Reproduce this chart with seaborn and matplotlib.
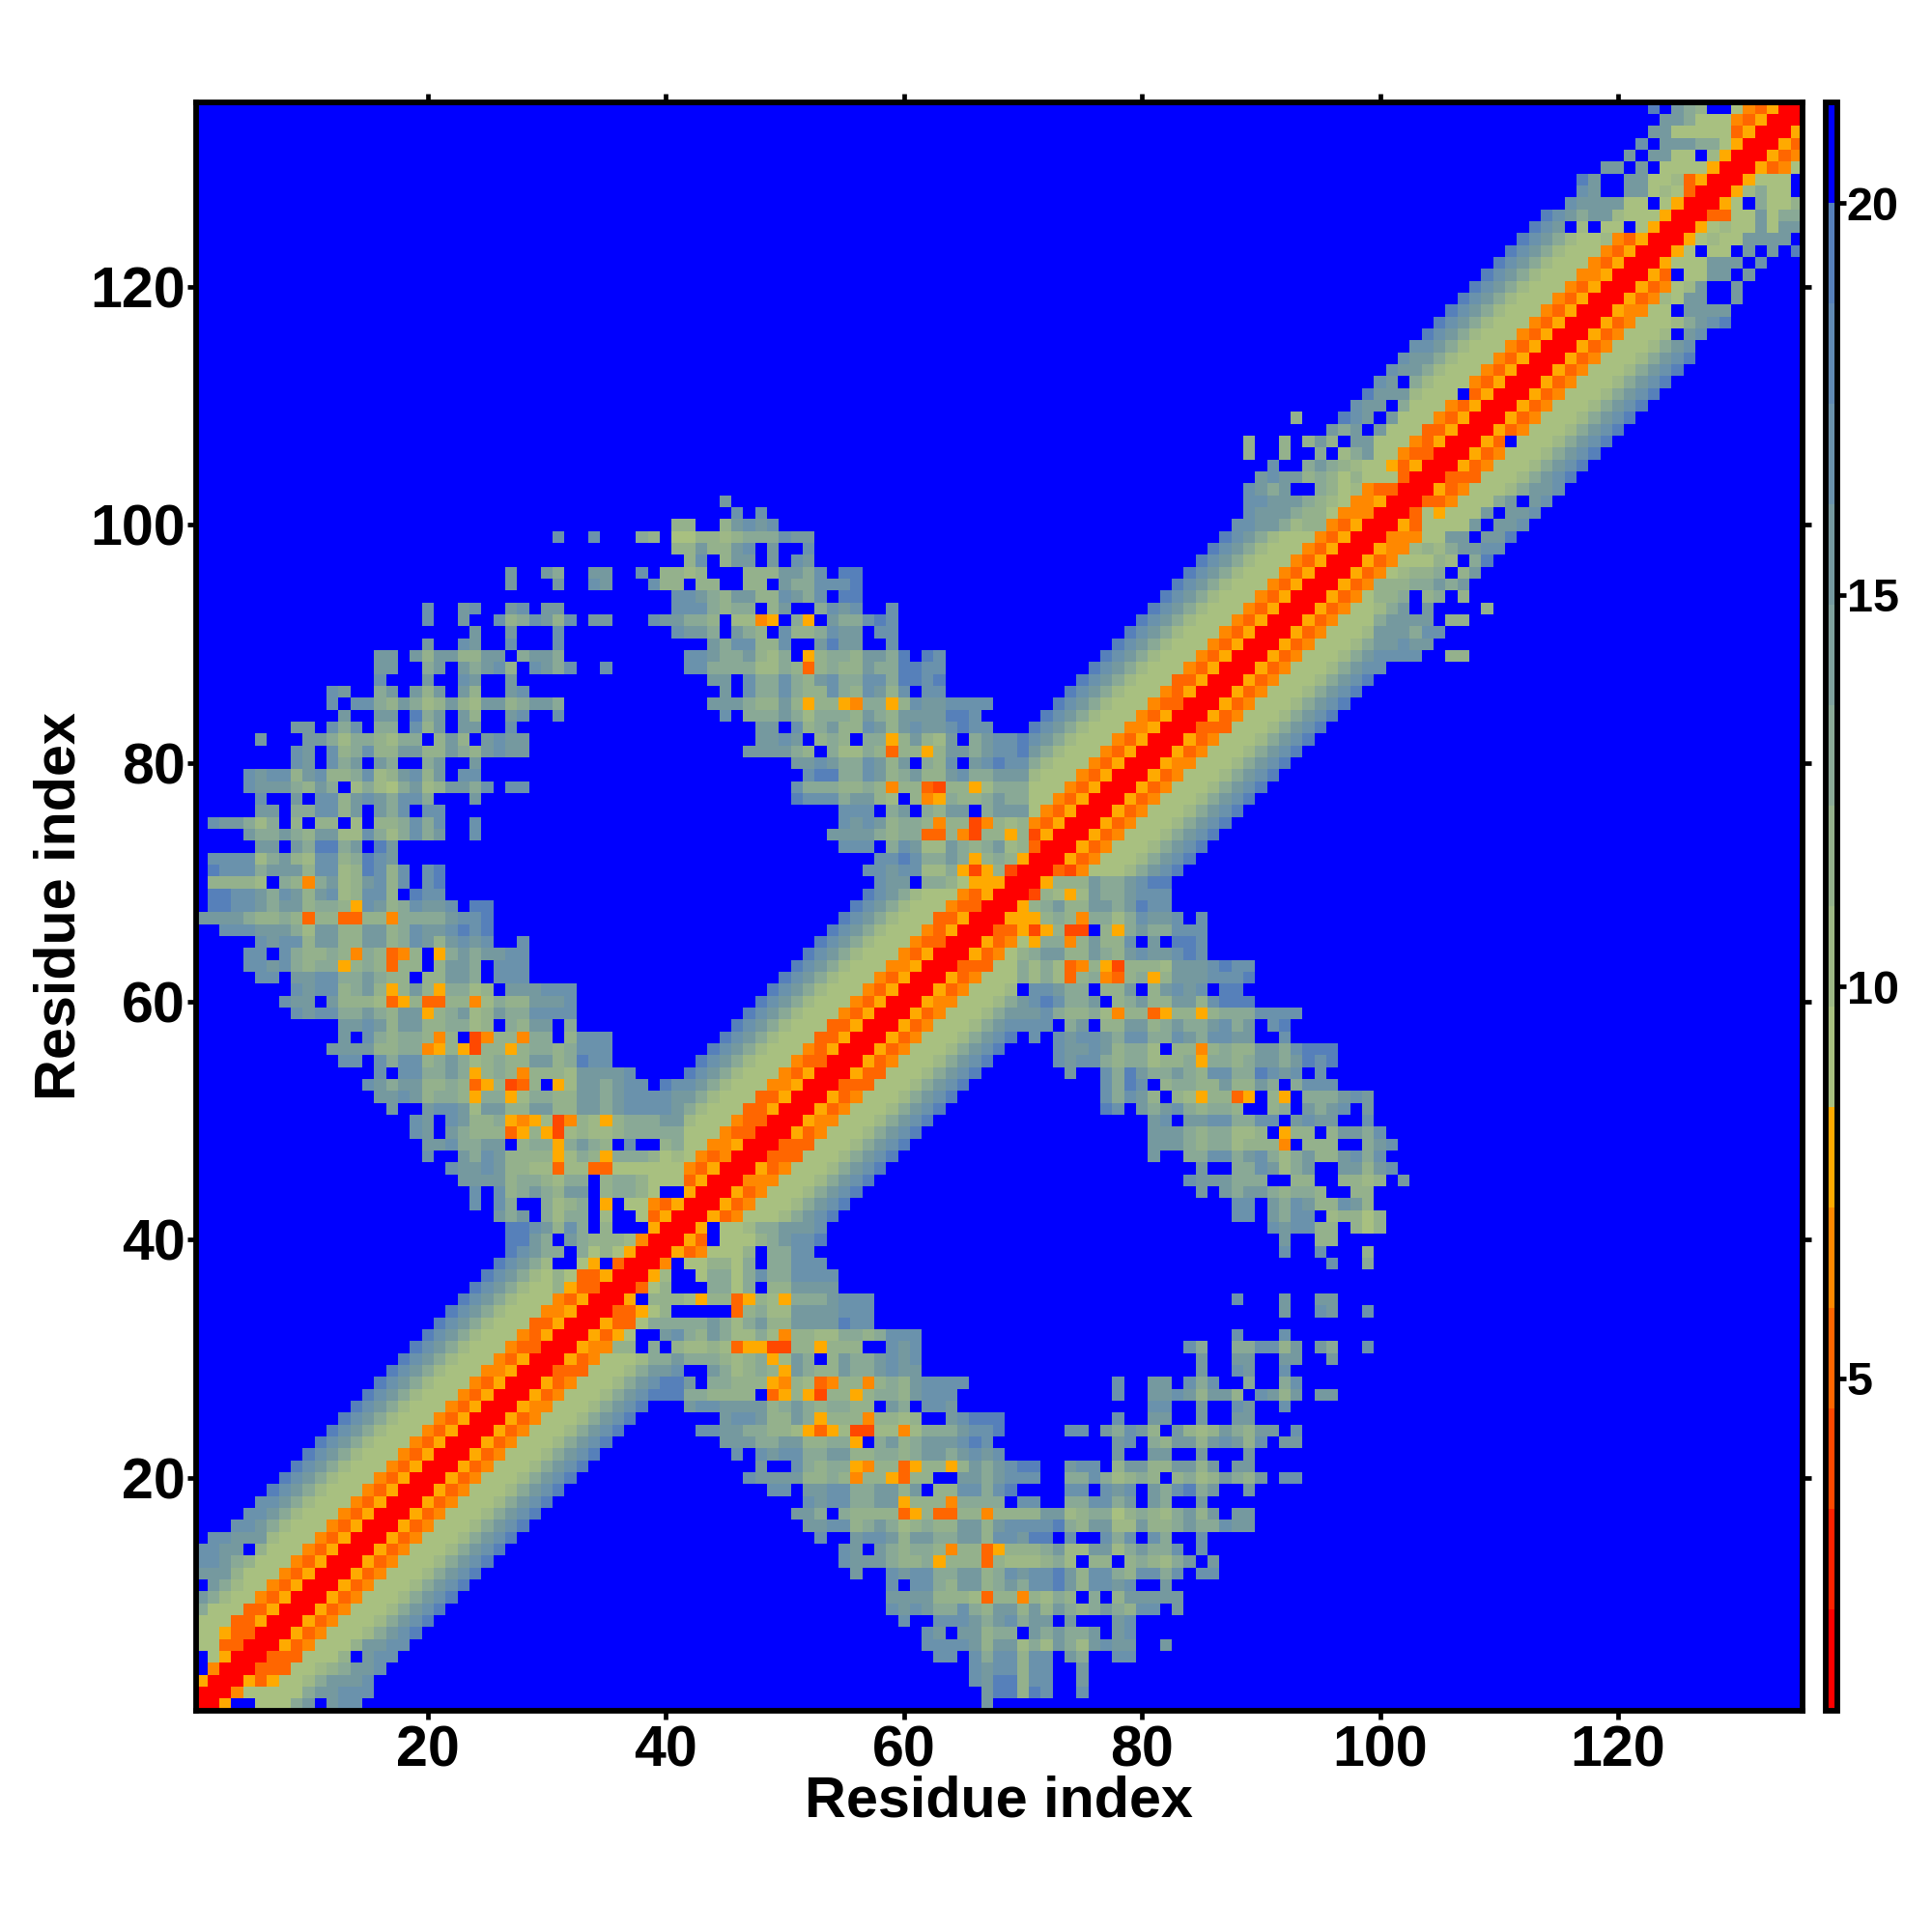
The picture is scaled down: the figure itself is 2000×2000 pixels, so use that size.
import numpy as np
import pandas as pd
import matplotlib
matplotlib.use("Agg")
import matplotlib.pyplot as plt
from matplotlib.colors import ListedColormap
import seaborn as sns

n_res = 135
ticks_res = [20, 40, 60, 80, 100, 120]
ticks_bar = [5, 10, 15, 20]

# distance levels
level_keys = "123456abcdefg."
level_vals = [1.4, 2.7, 4.0, 5.3, 6.5, 7.8, 9.1, 10.4, 11.7, 13.0, 15.5, 16.8, 19.3, 20.6]
bar_min, bar_max = 0.76, 21.29
bar_colors = ["#ff0000", "#ff2200", "#ff4800", "#ff6600", "#ff8800", "#ffaa00",
              "#a8c080", "#9eb886", "#94b18c", "#89a996", "#7fa19d", "#75999f",
              "#6a92ac", "#6089b3", "#5680ba", "#0000ff"]

# value by distance from the diagonal, 0 to 12
band_profile = "11645aaabdefg"

# (row, first column, cell levels) for the stretches that differ from the profile
band_rows = [
    (1, 1, "116..aaade.eff"), (2, 2, "115aaaaadeefff"), (3, 3, "11646aabdeeef"),
    (4, 4, "11444aabcdeef"), (5, 5, "11444aaac.eff"), (6, 6, "11645aaaceeff"),
    (26, 28, "655"), (29, 31, "444"), (45, 47, "555"), (47, 49, "444"), (48, 50, "444"),
    (50, 52, "655"), (53, 55, "444"), (54, 56, "644"), (60, 62, "655"), (63, 65, "444"),
    (80, 82, "655"), (83, 85, "444"),
    (41, 43, "6.aabddeeef"), (40, 42, "64.aaacdeffg"), (39, 41, "645aaac.ddff"),
    (38, 40, "5.aaccad.ddfff"), (37, 39, "6b..addadfddffff"), (36, 38, "4ac...ddad.cceeee"),
    (103, 105, "645aaabdeef"), (102, 104, "445aaade.ef"), (101, 103, "4a6aaae.eef"),
    (100, 102, "64aaaae.eef"), (99, 101, "555aaee.ee"), (98, 100, "655bcbdeeff"),
    (97, 100, "45aaacb.d"), (96, 100, "5abccd.ce"), (95, 100, "cccddede"),
    (94, 100, "ccd.cd.c"), (93, 100, "bde.e....c"), (92, 100, "deeee.cc"),
    (91, 100, "eeedff"), (90, 100, "eefee"), (89, 100, "ffff..cc"), (88, 100, "f"),
    (104, 106, "444"), (107, 111, "."), (115, 127, "."), (116, 125, ".ef."),
    (118, 120, "655aa.eeee."), (119, 121, "645baee..e."), (120, 122, "645abe..e.."),
    (121, 123, "64.aaee.e.."), (122, 124, "6aaaeee.f.."), (123, 125, "6a.aa.e.e."),
    (124, 126, "6abaaeeee."), (125, 127, "6abaaeaee"), (126, 128, "44aaeadd"),
    (127, 130, "a.daac"), (128, 131, "bdaa."), (129, 132, "aaa."),
]

# lower arm of the ring, columns 34 to 71
arm_low = [
    (35, 37, "6.cccb6cc46cb6dddefff"), (34, 36, "446ac.....4cdbbeeeefff"),
    (33, 35, "644adddddedbdecceeeegff"), (32, 34, "646a..efdcedbbdb5ccbbddcdfff"),
    (31, 34, "55cc.d.cbbcb46633cc6ccc..fef"), (30, 40, "dedddcbcd6bed.ceddefef"),
    (29, 40, "ef..edbcdc6edcceddefee"), (28, 40, "gge.ddccc65cb45cc5cdceffff"),
    (27, 40, "ggddcccc.46c63cc6cddcefff"), (26, 40, "..effeeeecdedcddcc.ed.ffe"),
    (25, 45, "effecced6ccc5ccbc..efggg"), (24, 43, "ffeeddccb646b33bb5bdddeffg"),
    (23, 45, "eeeddeeccdd6.decdeeefgf"), (22, 46, "f.feffddeeccddcdeedefef"),
    (21, 48, "e..fdcdd65cc46cc6cedefgg"), (20, 47, "feeeeccdc5cc64cc..eedefff"),
    (19, 49, "ff.eeffddeece.ccffdfg.."), (18, 52, "feffddee6ccc5dddd.ff"),
    (17, 51, "eed.dcccc46c44cc5cccc"), (16, 52, "eeffcdedbcdcceecefff"),
    (15, 53, "f..effeceeddeecffeg"), (14, 55, "fe.edcddc5cc46ccc"),
    (13, 55, "feeedccd6ccc4cbbb"), (12, 56, "e..feffddeecdfef"),
    (11, 59, "f.ffdceecdedf"), (10, 59, "eeeecccb4cc5c"), (9, 59, "fefeddfdceece"),
    (8, 60, "f..fffedefde"), (7, 62, "fe.eecdd.e"), (6, 62, "ffffeceebd"),
    (5, 63, "ff.fdffcf"), (4, 66, "feffcf"), (3, 66, "feggcf"), (2, 67, "eggcg"), (1, 67, "e"),
]

# far side of the ring, columns 72 to 99
arm_far = [
    (35, 88, "f...e..ee"), (34, 92, "e..fe..f"), (32, 88, "f...f"),
    (31, 84, "fd..ddffce.ed..f"), (30, 85, "e..ee..ee..e"), (29, 85, "e..fe..f"),
    (28, 78, "f..ee.fdf..d..df"), (27, 78, "f..eefeceec.fece.ee"), (26, 81, "ff..e..fe..f"),
    (25, 78, "f..ee..e..ee"), (24, 74, "ff.edfec.ecbcedcee.f"), (23, 78, "ef.dceecefecf.ee"),
    (22, 78, "e..ee..e...e"), (21, 74, "eff.ceecceece.ee"), (20, 74, "ddfdbcdc.cdbcedce.ff"),
    (19, 74, "ff.fef.edfgde..e"), (18, 74, "ddffde.ed..e"), (17, 72, "eebcddacdcbdece.ee"),
    (16, 72, "fgdceebbeccdeddfee"), (15, 72, "g.f..fdf.fd..f"), (14, 72, "debbeebdeddf.f"),
    (13, 72, "cdb.cc.cdcbde.e"), (12, 72, "fgecffdcffdf.ff"), (11, 72, "fgecffef..e"),
    (10, 72, "bdc.d.ceeeee"), (9, 72, "cedcdedcff.e"), (8, 72, "e.e...ef"),
    (7, 72, "dedde.ef"), (6, 72, "bedbefee..e"), (5, 72, "f.ed..ff"),
    (4, 72, "f..e"), (3, 72, "f..e"), (2, 72, "f..f"),
]

# upper arm, rows 38 to 71
arm_high = [
    (71, 73, "435"), (70, 71, "16ccceddefgg"), (69, 71, "3cb6beddefff"),
    (68, 70, "6cdecceedegff"), (67, 69, "666cdc5ddbdfeef.f"),
    (66, 68, "44636c33.c6deddfff"), (65, 70, "a6dd5ceccf.e.ggf"),
    (64, 70, "cdeeccedcefeefgf"), (63, 70, "dbdb45c63cccbeeefgff"),
    (62, 70, "dbdb4cd54cd6ceeefffg"), (61, 70, ".ffedd.cce.cefef.gg"),
    (60, 70, "efgfdde.cdecceecfggg"), (59, 70, "eefdccdb5cc46cc6cdddffff"),
    (58, 70, "fff.de.cceecdeddefde.fg"), (57, 71, "f.feffedffddfedffee..f"),
    (56, 73, "feefecddb.cc5cdcceedfggg"), (55, 73, "feffdcddbccd6ddcdeedegfg"),
    (54, 74, "e..fdgeddedcffddgfef.f"), (53, 77, "fdgf.cddccecced.dfff"),
    (52, 77, "fdfec.cb6cc46.c6.dddefe"), (51, 77, "gf.edefdcddc..cd.edef.e"),
    (50, 81, "ef.eeffddff.efee..f"), (49, 81, "eeedcddbbc.6cc.ceedf"),
    (48, 81, "eeedcddbccc5.ccc..def"), (47, 81, "e..ddffdefdbdeccefdf"),
    (46, 85, "e..ddfebde..eecef"), (45, 84, "feeeddd..cc..ccbc.e"),
    (44, 85, "e.edeedcddc..cc"), (43, 88, "ff.edfeccfec"), (42, 88, "ff.edff.bccac"),
    (41, 91, "feffcc.cac"), (40, 92, "e..cc"), (39, 92, "f..f...c"), (38, 96, "f..d"),
]

key_to_val = dict(zip(level_keys, level_vals))
mat = np.full((n_res, n_res), key_to_val["."])

for i in range(n_res):
    for d, key in enumerate(band_profile):
        if i + d < n_res:
            mat[i, i + d] = key_to_val[key]

for row, col, text in band_rows + arm_low + arm_far + arm_high:
    for k, key in enumerate(text):
        if col - 1 + k < n_res:
            mat[row - 1, col - 1 + k] = key_to_val[key]

# the map is symmetric, only the part right of the diagonal was read
upper = np.triu(mat)
mat = upper + upper.T - np.diag(np.diag(mat))

labels = list(range(1, n_res + 1))
df = pd.DataFrame(mat, index=labels, columns=labels)

sns.set_theme(style="white")
plt.rcParams["font.family"] = ["Liberation Sans", "DejaVu Sans"]
plt.rcParams["font.weight"] = "bold"
plt.rcParams["text.color"] = "black"
plt.rcParams["axes.labelcolor"] = "black"
plt.rcParams["xtick.color"] = "black"
plt.rcParams["ytick.color"] = "black"

fig = plt.figure(figsize=(10, 10), dpi=200)
ax = fig.add_axes([202.5 / 2000, 229.5 / 2000, 1663.5 / 2000, 1665 / 2000])
cax = fig.add_axes([1889.5 / 2000, 229.5 / 2000, 12 / 2000, 1665 / 2000])

sns.heatmap(df, ax=ax, cbar_ax=cax, cmap=ListedColormap(bar_colors), vmin=bar_min, vmax=bar_max,
            xticklabels=False, yticklabels=False, rasterized=True,
            cbar_kws={"ticks": ticks_bar})
ax.invert_yaxis()

for spine in ax.spines.values():
    spine.set_visible(True)
    spine.set_color("black")
    spine.set_linewidth(2.1)

ax.set_xticks([t - 0.5 for t in ticks_res])
ax.set_yticks([t - 0.5 for t in ticks_res])
ax.set_xticklabels(ticks_res, fontsize=21.3, fontweight="bold")
ax.set_yticklabels(ticks_res, fontsize=21.3, fontweight="bold", rotation=0)
ax.tick_params(axis="both", which="major", direction="out", length=3.2, width=1.7, color="black",
               top=True, right=True, bottom=True, left=True, labeltop=False, labelright=False)
ax.tick_params(axis="x", pad=2.1)
ax.tick_params(axis="y", pad=0.7)
ax.set_xlabel("Residue index", fontsize=21.4, fontweight="bold", labelpad=-0.9)
ax.set_ylabel("Residue index", fontsize=21.4, fontweight="bold", labelpad=1.3)

cbar = ax.collections[0].colorbar
cbar.outline.set_visible(True)
cbar.outline.set_edgecolor("black")
cbar.outline.set_linewidth(2.1)
cax.tick_params(axis="y", direction="out", length=3.2, width=1.7, color="black", pad=0.5,
                labelsize=17.5, right=True)
cax.set_yticklabels([str(t) for t in ticks_bar], fontweight="bold")

fig.savefig("out.png", dpi=200)
